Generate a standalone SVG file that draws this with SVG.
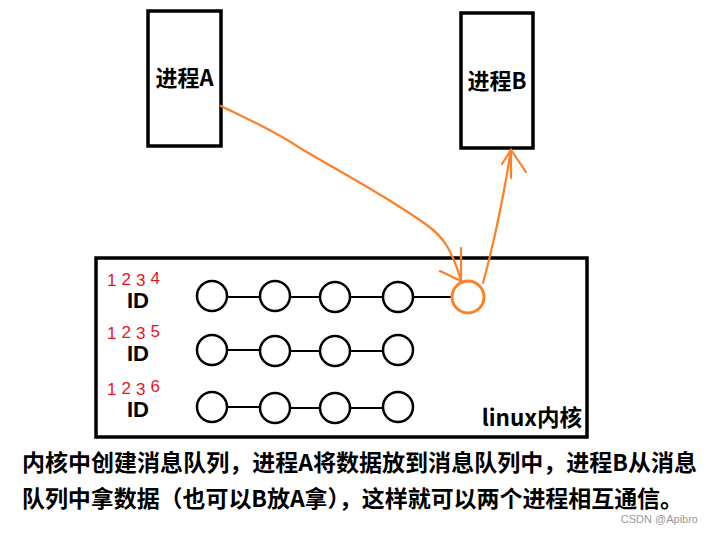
<svg xmlns="http://www.w3.org/2000/svg" width="710" height="533" viewBox="0 0 710 533">
<style>
.box{fill:#fff;stroke:#000;stroke-width:3.5}
.lbl{font-family:"Noto Sans CJK SC","Liberation Sans",sans-serif;font-weight:bold;fill:#000}
.node{fill:#fff;stroke:#000;stroke-width:2.5}
.link{stroke:#000;stroke-width:2}
.id{font-family:"Liberation Sans",sans-serif;font-weight:bold;font-size:22px;fill:#000}
.num{font-family:"Liberation Sans",sans-serif;font-size:17px;fill:#e8141c;letter-spacing:5px}
.or{fill:none;stroke:#ff7f27;stroke-width:2.2;stroke-linecap:round}
.desc{font-family:"Noto Sans CJK SC","Liberation Sans",sans-serif;font-weight:bold;font-size:23px;fill:#000}
</style>
<rect width="710" height="533" fill="#fff"/>
<g id="procA">
<rect class="box" x="148" y="11" width="73" height="135"/>
<text class="lbl" x="184.5" y="86" font-size="22" text-anchor="middle">进程A</text>
</g>
<g id="procB">
<rect class="box" x="461" y="13" width="72" height="135"/>
<text class="lbl" x="497" y="89" font-size="22" text-anchor="middle">进程B</text>
</g>
<g id="kernel">
<rect class="box" x="96" y="258" width="491" height="179"/>
<text class="lbl" x="582" y="426" font-size="22.5" text-anchor="end">linux内核</text>
</g>
<g id="queue1">
<text class="num" x="107" y="286">1<tspan dy="-1">2</tspan><tspan dy="1">3</tspan><tspan dy="-2">4</tspan></text>
<text class="id" x="127" y="308">ID</text>
<line class="link" x1="227" y1="297" x2="260" y2="297"/>
<line class="link" x1="290" y1="297" x2="320" y2="297"/>
<line class="link" x1="350" y1="297" x2="383" y2="297"/>
<line class="link" x1="413" y1="297" x2="452" y2="297"/>
<circle class="node" cx="212" cy="296" r="15"/>
<circle class="node" cx="275" cy="296" r="15"/>
<circle class="node" cx="335" cy="297" r="15"/>
<circle class="node" cx="398" cy="297" r="15"/>
<circle cx="468" cy="297" r="16" fill="#fff" stroke="#ff7f27" stroke-width="3"/>
</g>
<g id="queue2">
<text class="num" x="107" y="339">1<tspan dy="-1">2</tspan><tspan dy="1">3</tspan><tspan dy="-2">5</tspan></text>
<text class="id" x="127" y="361">ID</text>
<line class="link" x1="227" y1="350" x2="260" y2="350"/>
<line class="link" x1="290" y1="351" x2="320" y2="351"/>
<line class="link" x1="350" y1="351" x2="383" y2="351"/>
<circle class="node" cx="212" cy="350" r="15"/>
<circle class="node" cx="275" cy="351" r="15"/>
<circle class="node" cx="335" cy="351" r="15"/>
<circle class="node" cx="398" cy="350" r="15"/>
</g>
<g id="queue3">
<text class="num" x="107" y="395">1<tspan dy="-1">2</tspan><tspan dy="1">3</tspan><tspan dy="-3">6</tspan></text>
<text class="id" x="127" y="417">ID</text>
<line class="link" x1="227" y1="407" x2="260" y2="407"/>
<line class="link" x1="290" y1="408" x2="320" y2="408"/>
<line class="link" x1="350" y1="408" x2="383" y2="408"/>
<circle class="node" cx="212" cy="407" r="15"/>
<circle class="node" cx="275" cy="408" r="15"/>
<circle class="node" cx="335" cy="408" r="15"/>
<circle class="node" cx="398" cy="407" r="15"/>
</g>
<g id="connectors">
<path class="or" d="M221,106 C245,118 270,128 300,148 C340,172 390,198 428,226 C445,238 452,252 461,280"/>
<path class="or" d="M461,248 L461,280 M440,271 L461,281"/>
<path class="or" d="M483,283 C492,250 503,200 511,150"/>
<path class="or" d="M502,164 L511,150 L526,172 M511,150 L511,178"/>
</g>
<g id="caption">
<text class="desc" x="22" y="471" textLength="675" lengthAdjust="spacing">内核中创建消息队列，进程A将数据放到消息队列中，进程B从消息</text>
<text class="desc" x="22" y="507" textLength="661" lengthAdjust="spacing">队列中拿数据（也可以B放A拿），这样就可以两个进程相互通信。</text>
<text x="698" y="523" text-anchor="end" font-family="Liberation Sans, sans-serif" font-size="11" fill="#999">CSDN @Apibro</text>
</g>
</svg>
